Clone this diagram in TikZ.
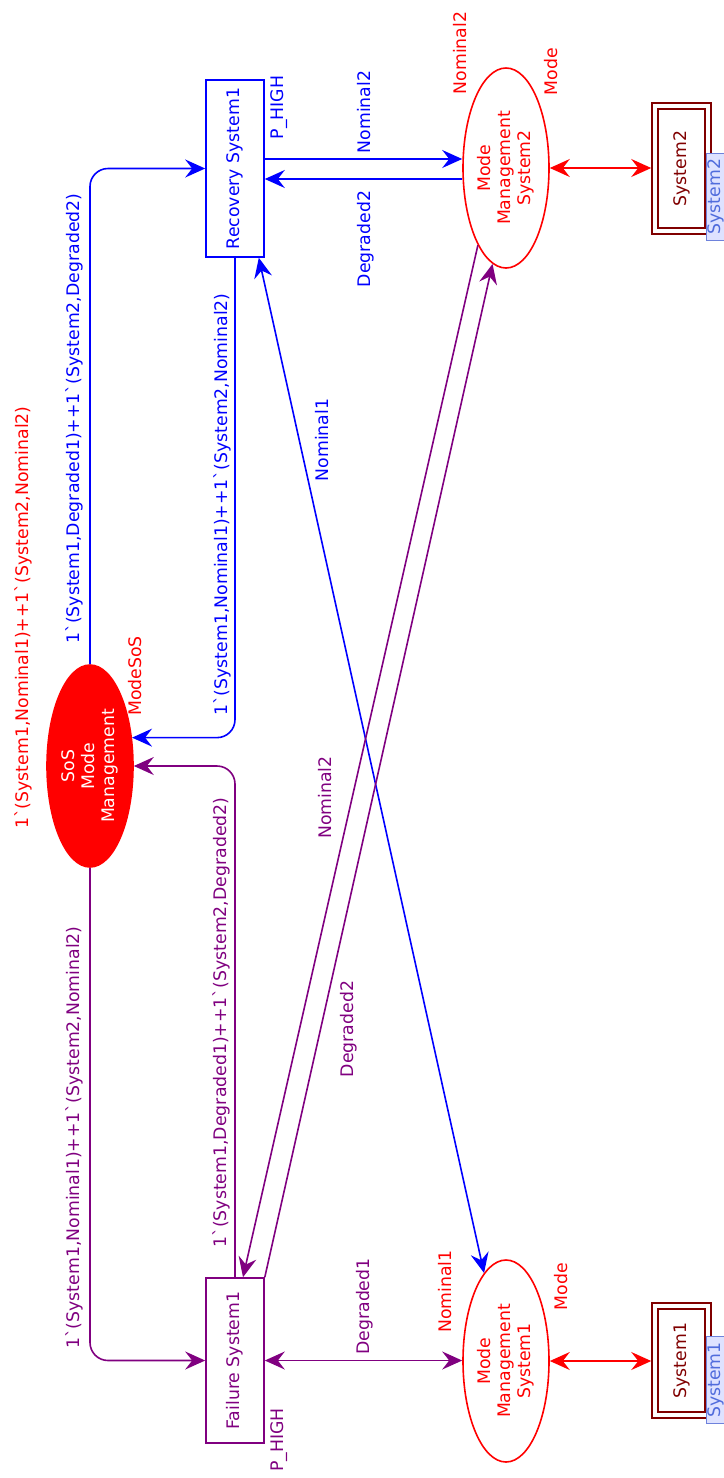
\documentclass[tikz,border=0pt]{standalone}
\usepackage{fontspec}
\setmainfont{DejaVu Sans}[Ligatures=TeXOff]
\usetikzlibrary{shapes.geometric,arrows.meta,calc}
\definecolor{cpnblue}{RGB}{0,0,255}
\definecolor{cpnpurple}{RGB}{128,0,128}
\definecolor{cpnred}{RGB}{255,0,0}
\definecolor{cpnmaroon}{RGB}{128,0,0}
\definecolor{tagfill}{RGB}{222,226,255}
\definecolor{tagdraw}{RGB}{110,130,220}
\definecolor{tagtext}{RGB}{80,108,220}
\begin{document}
\begin{tikzpicture}[x=1pt,y=-1pt,
  font=\fontsize{17.3}{20}\selectfont, line width=1.6pt,
  >={Stealth[length=20pt,width=18pt,inset=7pt]},
  place/.style={ellipse, draw=cpnred, text=cpnred, minimum width=86pt, inner sep=0pt},
  trans/.style={rectangle, draw, minimum width=58pt, inner sep=0pt},
  sysbox/.style={rectangle, draw=cpnmaroon, double=white, double distance=4.5pt,
     text=cpnmaroon, minimum width=53pt, inner sep=0pt, outer sep=3.75pt},
  tagbox/.style={rotate=90, fill=tagfill, draw=tagdraw, text=tagtext, line width=1pt,
     minimum width=87pt, minimum height=18pt, inner sep=1pt},
  lbl/.style={rotate=90, inner sep=0pt},
  bluearc/.style={draw=cpnblue, rounded corners=18pt},
  purplearc/.style={draw=cpnpurple, rounded corners=18pt},
  redarc/.style={draw=cpnred}]
\useasboundingbox (0,0) rectangle (723,1478);

% places
\node[place, fill=cpnred, text=white, minimum height=202pt] (sos) at (90,766)
  {\rotatebox{90}{\begin{tabular}{@{}c@{}}SoS\\Mode\\Management\end{tabular}}};
\node[place, minimum height=200pt] (mm2) at (506,168)
  {\rotatebox{90}{\begin{tabular}{@{}c@{}}Mode\\Management\\System2\end{tabular}}};
\node[place, minimum height=202pt] (mm1) at (506,1361)
  {\rotatebox{90}{\begin{tabular}{@{}c@{}}Mode\\Management\\System1\end{tabular}}};

% transitions
\node[trans, draw=cpnblue, text=cpnblue, minimum height=177pt] (rec) at (235,168.5)
  {\rotatebox{90}{Recovery System1}};
\node[trans, draw=cpnpurple, text=cpnpurple, minimum height=165pt] (fail) at (235,1360.5)
  {\rotatebox{90}{Failure System1}};

% substitution / fusion boxes
\node[sysbox, minimum height=125pt] (sys2) at (681.5,168.5) {\rotatebox{90}{System2}};
\node[sysbox, minimum height=109pt] (sys1) at (681.5,1360.5) {\rotatebox{90}{System1}};
\node[tagbox] (tag2) at (716,196.5) {System2};
\node[tagbox] (tag1) at (716,1380) {System1};

% arcs
\draw[bluearc, ->] (sos.north) |- (rec.west);
\draw[bluearc, ->] (rec.south) |- (sos.34);
\draw[purplearc, ->] (fail.north) |- (sos.east);
\draw[purplearc, ->] (sos.south) |- (fail.west);
\draw[bluearc, ->] ($(rec.east)+(0,-9.5)$) -- ($(mm2.west)+(0,-9)$);
\draw[bluearc, <-] ($(rec.east)+(0,10.5)$) -- ($(mm2.west)+(0,11)$);
\draw[purplearc, <->] (fail.east) -- (fail.east -| mm1.west);
\draw[redarc, <->] (mm2.east) -- (mm2.east -| sys2.west);
\draw[redarc, <->] (mm1.east) -- (mm1.east -| sys1.west);
\draw[bluearc, <->] (mm1.104) -- ($(rec.south east)+(-6,0)$);
\draw[purplearc, ->] (mm2.250) -- ($(fail.north)+(8,0)$);
\draw[purplearc, ->] (fail.north east) -- (mm2.262);

% labels
\node[lbl, text=cpnred] (lsos) at (135.5,676) {ModeSoS};
\node[lbl, text=cpnred] (linit) at (23,617.5) {1`(System1,Nominal1)++1`(System2,Nominal2)};
\node[lbl, text=cpnblue] (la) at (74.5,418.5) {1`(System1,Degraded1)++1`(System2,Degraded2)};
\node[lbl, text=cpnblue] (lb) at (222,504.5) {1`(System1,Nominal1)++1`(System2,Nominal2)};
\node[lbl, text=cpnpurple] (lc) at (221,1022.5) {1`(System1,Degraded1)++1`(System2,Degraded2)};
\node[lbl, text=cpnpurple] (ld) at (74,1137.5) {1`(System1,Nominal1)++1`(System2,Nominal2)};
\node[lbl, text=cpnblue] (lph1) at (279,107.5) {P\_HIGH};
\node[lbl, text=cpnpurple] (lph2) at (279.5,1440) {P\_HIGH};
\node[lbl, text=cpnblue] (ln2b) at (364.5,112) {Nominal2};
\node[lbl, text=cpnblue] (ld2b) at (366,239) {Degraded2};
\node[lbl, text=cpnblue] (ln1b) at (322.5,440) {Nominal1};
\node[lbl, text=cpnpurple] (ln2p) at (325.5,797.5) {Nominal2};
\node[lbl, text=cpnpurple] (ld2p) at (348.5,1029) {Degraded2};
\node[lbl, text=cpnpurple] (ld1p) at (364.5,1306.5) {Degraded1};
\node[lbl, text=cpnred] (ln2r) at (460,53) {Nominal2};
\node[lbl, text=cpnred] (lmode2) at (551.5,71.5) {Mode};
\node[lbl, text=cpnred] (ln1r) at (445,1291.5) {Nominal1};
\node[lbl, text=cpnred] (lmode1) at (561.5,1286.5) {Mode};
\end{tikzpicture}
\end{document}
